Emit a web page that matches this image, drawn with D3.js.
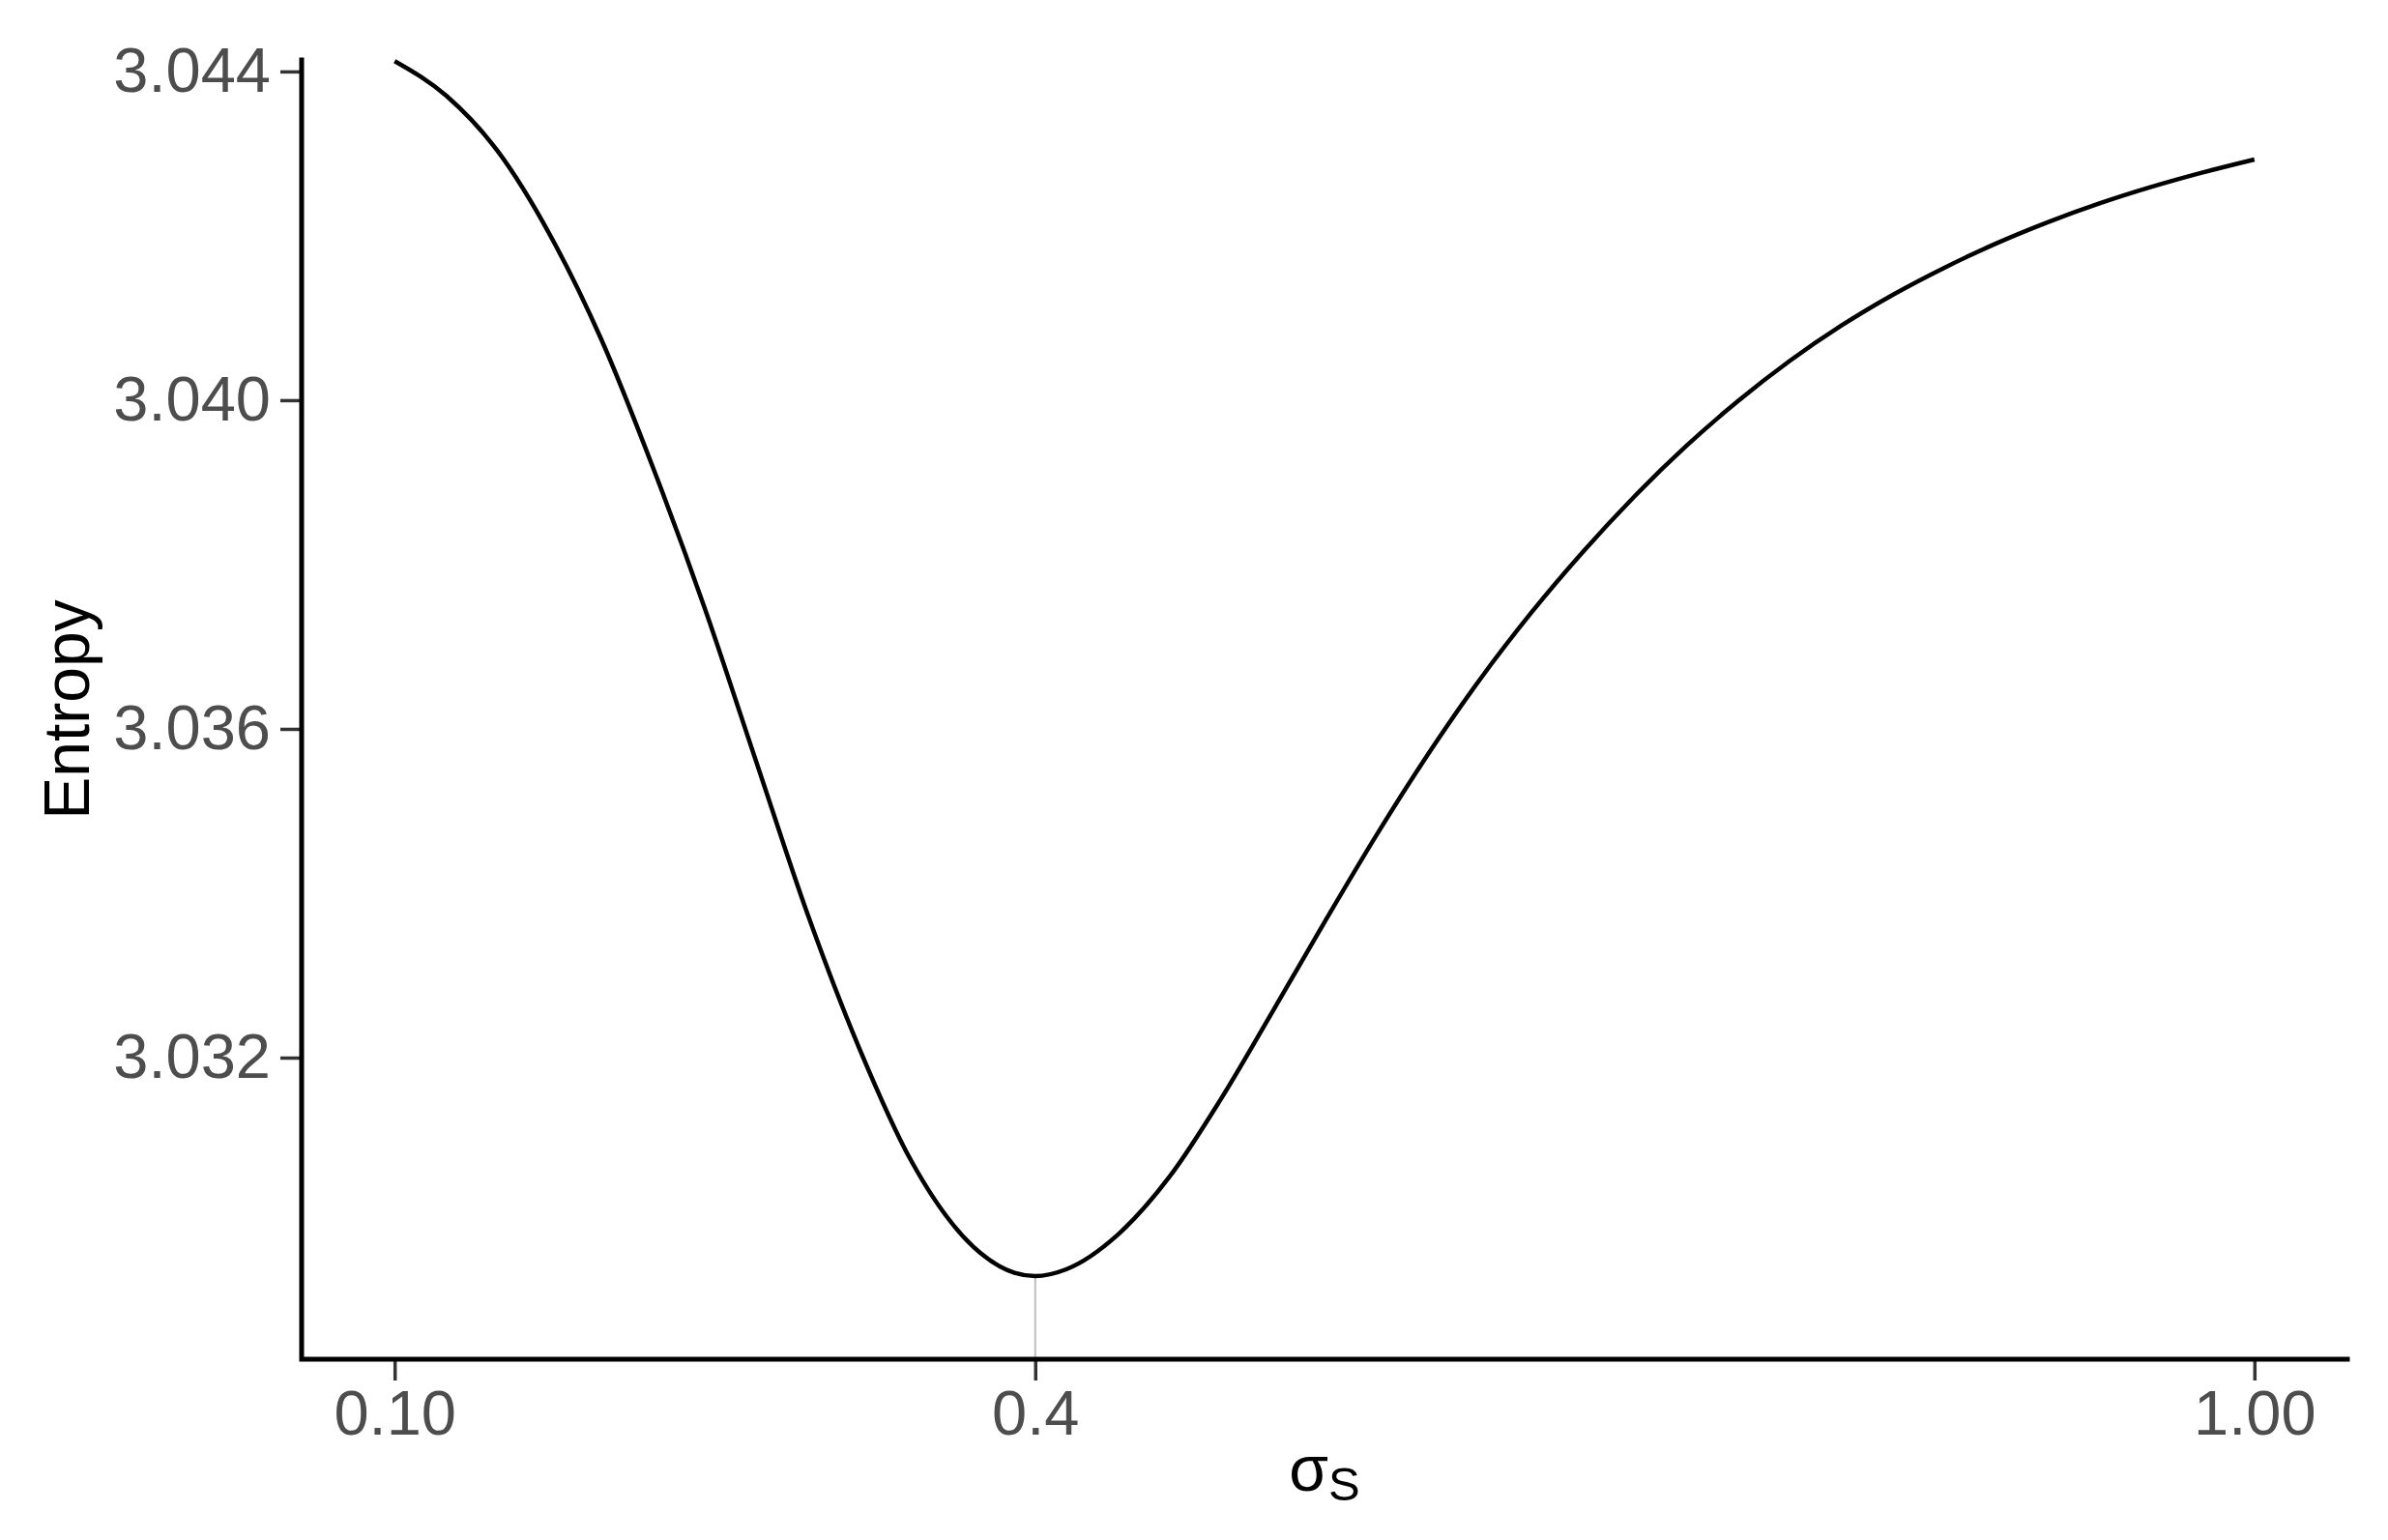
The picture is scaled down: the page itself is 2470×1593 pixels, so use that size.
<!DOCTYPE html>
<html>
<head>
<meta charset="utf-8">
<script src="https://cdn.jsdelivr.net/npm/d3@7"></script>
<style>
  body { margin: 0; background: #fff; }
  svg { display: block; font-family: "Liberation Sans", Arial, sans-serif; }
</style>
</head>
<body>
<svg id="chart"></svg>
<script>
// sigma_S values and entropy
const sigma = [0.100, 0.125, 0.150, 0.175, 0.200, 0.225, 0.250, 0.275, 0.300, 0.325,
               0.350, 0.375, 0.400, 0.410, 0.425, 0.450, 0.475, 0.500, 0.525, 0.550,
               0.575, 0.600, 0.625, 0.650, 0.675, 0.700, 0.725, 0.750, 0.775, 0.800,
               0.825, 0.850, 0.875, 0.900, 0.925, 0.950, 0.975, 1.000];
const entropy = [3.044126, 3.043704, 3.043026, 3.042019, 3.040740, 3.039182, 3.037474, 3.035600, 3.033734, 3.032106,
                 3.030744, 3.029828, 3.029381, 3.029341, 3.029424, 3.029846, 3.030551, 3.031502, 3.032567, 3.033649,
                 3.034702, 3.035688, 3.036594, 3.037412, 3.038153, 3.038829, 3.039441, 3.039988, 3.040476, 3.040906,
                 3.041282, 3.041612, 3.041906, 3.042165, 3.042394, 3.042594, 3.042771, 3.042929];

const xTicks = [0.10, 0.41, 1.00];
const xTickLabels = ["0.10", "0.4", "1.00"];
const yTicks = [3.032, 3.036, 3.040, 3.044];
const optSigma = 0.41;

const width = 2470;
const height = 1593;
const panel = { left: 312, right: 2428, top: 62, bottom: 1406 };

const svg = d3.select("#chart").attr("width", width).attr("height", height);
svg.append("rect").attr("width", width).attr("height", height).attr("fill", "#fff");

const x = d3.scaleLinear().domain([0.055, 1.045]).range([panel.left, panel.right]);
const y = d3.scaleLinear().domain([3.02833, 3.04414]).range([panel.bottom, panel.top]);

const data = sigma.map(function (s, i) { return { s: s, e: entropy[i] }; });
const minPoint = data.reduce(function (a, b) { return b.e < a.e ? b : a; });

// grey marker from the minimum down to the axis
svg.append("line")
    .attr("x1", x(optSigma)).attr("x2", x(optSigma))
    .attr("y1", y(minPoint.e)).attr("y2", panel.bottom)
    .attr("stroke", "#bebebe")
    .attr("stroke-width", 2);

const line = d3.line()
    .x(function (d) { return x(d.s); })
    .y(function (d) { return y(d.e); })
    .curve(d3.curveMonotoneX);

svg.append("path")
    .datum(data)
    .attr("fill", "none")
    .attr("stroke", "#000")
    .attr("stroke-width", 4.5)
    .attr("stroke-linejoin", "round")
    .attr("d", line);

// axes
const xAxis = svg.append("g")
    .attr("transform", "translate(0," + panel.bottom + ")")
    .call(d3.axisBottom(x).tickValues(xTicks)
        .tickFormat(function (d, i) { return xTickLabels[i]; })
        .tickSize(22).tickPadding(10));

const yAxis = svg.append("g")
    .attr("transform", "translate(" + panel.left + ",0)")
    .call(d3.axisLeft(y).tickValues(yTicks)
        .tickFormat(d3.format(".3f"))
        .tickSize(22).tickPadding(10));

[xAxis, yAxis].forEach(function (g) {
    g.select(".domain").remove();
    g.selectAll(".tick line").attr("stroke", "#333333").attr("stroke-width", 3.5);
    g.selectAll(".tick text")
        .attr("fill", "#4d4d4d")
        .style("font-size", "65px")
        .style("font-family", "'Liberation Sans', Arial, sans-serif");
});
xAxis.selectAll(".tick text").attr("dy", "0.71em");

// axis lines meeting at the corner
svg.append("path")
    .attr("d", "M" + panel.left + "," + panel.top + "V" + panel.bottom + "H" + panel.right)
    .attr("fill", "none")
    .attr("stroke", "#000")
    .attr("stroke-width", 5)
    .attr("stroke-linecap", "square");

// axis titles
svg.append("text")
    .attr("transform", "translate(92," + ((panel.top + panel.bottom) / 2) + ") rotate(-90)")
    .attr("text-anchor", "middle")
    .attr("fill", "#000")
    .style("font-size", "66px")
    .text("Entropy");

const xTitle = svg.append("text")
    .attr("x", (panel.left + panel.right) / 2)
    .attr("y", 1542)
    .attr("text-anchor", "middle")
    .attr("fill", "#000")
    .style("font-size", "66px");
xTitle.append("tspan").text("σ");
xTitle.append("tspan").attr("dy", 10).style("font-size", "49px").text("S");
</script>
</body>
</html>
